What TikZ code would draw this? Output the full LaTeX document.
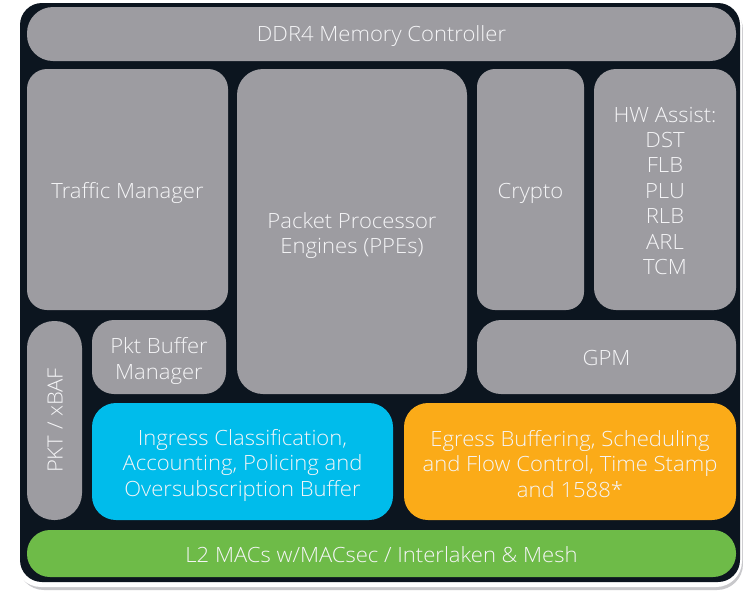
\documentclass[tikz,border=0pt]{standalone}
\usepackage{fontspec}
\IfFontExistsTF{Open Sans Light}{\setmainfont{Open Sans Light}[FakeStretch=1.05]}{\setmainfont{Open Sans}[FakeStretch=1.05]}
\definecolor{bgdark}{RGB}{12,21,31}
\definecolor{blkgray}{RGB}{157,156,161}
\definecolor{ciscoblue}{RGB}{0,188,235}
\definecolor{ciscoorange}{RGB}{251,171,24}
\definecolor{ciscogreen}{RGB}{110,187,72}
\definecolor{txt}{RGB}{245,245,247}
\definecolor{shadowgray}{RGB}{200,200,203}
\begin{document}
\begin{tikzpicture}[x=1pt,y=-1pt,
  blk/.style={draw=none, fill=blkgray, inner sep=0pt},
  grayblk/.style={blk},
  blueblk/.style={blk, fill=ciscoblue},
  orangeblk/.style={blk, fill=ciscoorange},
  greenblk/.style={blk, fill=ciscogreen},
  blktext/.style={text=txt, align=center, inner sep=0pt,
    font=\fontsize{21}{25.4}\selectfont}]
\useasboundingbox (0,0) rectangle (743,590);
% frame
\fill[shadowgray, rounded corners=26pt] (18,4) rectangle (743,590);
\fill[white, rounded corners=26pt] (15,0) rectangle (742,587);
\fill[bgdark, rounded corners=22pt] (20,3) rectangle (740,582);
% blocks
\node[grayblk, minimum width=709pt, minimum height=54pt, rounded corners=26pt] (ddr) at (381.5,34) {};
\node[grayblk, minimum width=201pt, minimum height=241pt, rounded corners=20pt] (tm) at (127.5,189.5) {};
\node[grayblk, minimum width=230pt, minimum height=325pt, rounded corners=26pt] (ppe) at (352,231.5) {};
\node[grayblk, minimum width=107pt, minimum height=241pt, rounded corners=18pt] (crypto) at (530.5,189.5) {};
\node[grayblk, minimum width=142pt, minimum height=241pt, rounded corners=22pt] (hw) at (665,189.5) {};
\node[grayblk, minimum width=259pt, minimum height=74pt, rounded corners=24pt] (gpm) at (606.5,357) {};
\node[grayblk, minimum width=55pt, minimum height=199pt, rounded corners=27pt] (pkt) at (54.5,420.5) {};
\node[grayblk, minimum width=134pt, minimum height=74pt, rounded corners=22pt] (pbm) at (159,357) {};
\node[blueblk, minimum width=301pt, minimum height=117pt, rounded corners=24pt] (ing) at (242.5,461.5) {};
\node[orangeblk, minimum width=332pt, minimum height=117pt, rounded corners=24pt] (egr) at (570,461.5) {};
\node[greenblk, minimum width=709pt, minimum height=47pt, rounded corners=23pt] (l2) at (381.5,553.5) {};
% texts
\node[blktext] (ddrt) at ([yshift=-2.2pt]ddr.center) {DDR4 Memory Controller};
\node[blktext] (tmt) at ([yshift=-3.3pt]tm.center) {Traffic Manager};
\node[blktext] (ppet) at ([yshift=-4.3pt]ppe.center) {Packet Processor\\Engines (PPEs)};
\node[blktext] (cryptot) at ([yshift=-4.2pt]crypto.center) {Crypto};
\node[blktext] (hwt) at ([yshift=-1.3pt]hw.center) {HW Assist:\\DST\\FLB\\PLU\\RLB\\ARL\\TCM};
\node[blktext] (gpmt) at ([yshift=-0.8pt]gpm.center) {GPM};
\node[blktext, rotate=90] (pktt) at ([xshift=0.5pt]pkt.center) {PKT / xBAF};
\node[blktext] (pbmt) at ([yshift=-3.8pt]pbm.center) {Pkt Buffer\\Manager};
\node[blktext] (ingt) at ([yshift=-3.9pt]ing.center) {Ingress Classification,\\Accounting, Policing and\\Oversubscription Buffer};
\node[blktext] (egrt) at ([yshift=-2.2pt]egr.center) {Egress Buffering, Scheduling\\and Flow Control, Time Stamp\\and 1588*};
\node[blktext] (l2t) at ([yshift=-1pt]l2.center) {L2 MACs w/MACsec / Interlaken \& Mesh};
\end{tikzpicture}
\end{document}
